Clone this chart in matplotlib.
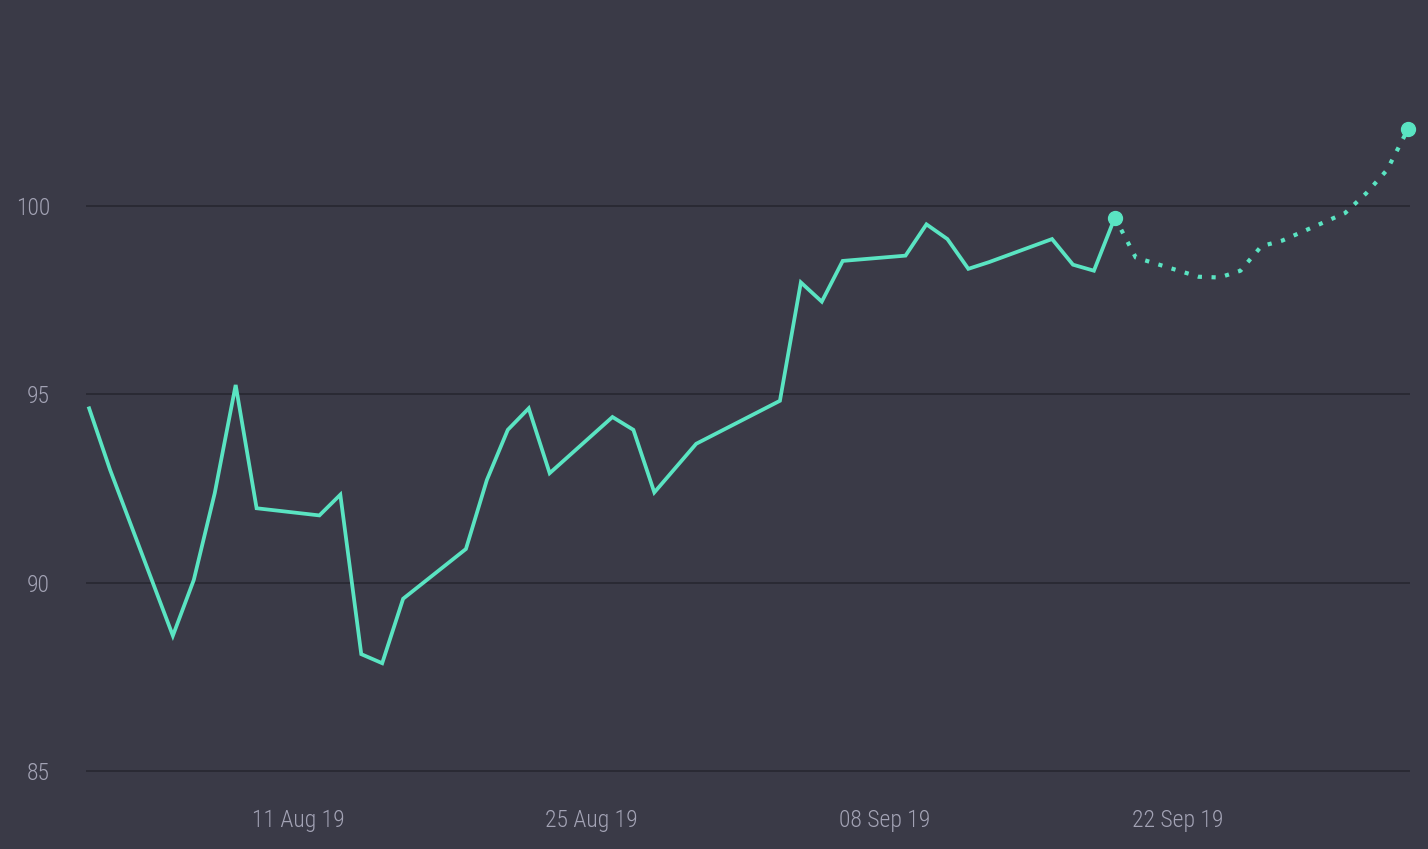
import matplotlib
matplotlib.use('Agg')
import matplotlib.pyplot as plt
import matplotlib.dates as mdates
import pandas as pd

# actual series (trading days)
dates = ['2019-08-01', '2019-08-02', '2019-08-05', '2019-08-06', '2019-08-07',
         '2019-08-08', '2019-08-09', '2019-08-12', '2019-08-13', '2019-08-14',
         '2019-08-15', '2019-08-16', '2019-08-19', '2019-08-20', '2019-08-21',
         '2019-08-22', '2019-08-23', '2019-08-26', '2019-08-27', '2019-08-28',
         '2019-08-30', '2019-09-03', '2019-09-04', '2019-09-05', '2019-09-06',
         '2019-09-09', '2019-09-10', '2019-09-11', '2019-09-12', '2019-09-13',
         '2019-09-16', '2019-09-17', '2019-09-18', '2019-09-19']
values = [94.63, 93.00, 88.60, 90.08, 92.38,
          95.25, 91.98, 91.79, 92.34, 88.11,
          87.87, 89.58, 90.90, 92.73, 94.06,
          94.63, 92.91, 94.40, 94.06, 92.40,
          93.69, 94.83, 97.97, 97.46, 98.54,
          98.68, 99.51, 99.12, 98.33, 98.51,
          99.12, 98.44, 98.28, 99.69]

# forecast series
fc_dates = ['2019-09-19', '2019-09-20', '2019-09-23', '2019-09-24', '2019-09-25',
            '2019-09-26', '2019-09-27', '2019-09-30', '2019-10-01', '2019-10-02',
            '2019-10-03']
fc_values = [99.69, 98.63, 98.12, 98.10, 98.28,
             98.93, 99.08, 99.81, 100.33, 100.95,
             102.03]

tick_dates = ['2019-08-11', '2019-08-25', '2019-09-08', '2019-09-22']
y_ticks = [85, 90, 95, 100]

bg = '#3a3a47'
grid_col = '#292933'
line_col = '#5ae4c2'
text_col = '#a3a3b5'

x = pd.to_datetime(dates)
fx = pd.to_datetime(fc_dates)

fig = plt.figure(figsize=(14.28, 8.49), dpi=100, facecolor=bg)
ax = fig.add_axes([86 / 1428, 1 - 785 / 849, (1410 - 86) / 1428, 785 / 849])
ax.set_facecolor(bg)

ax.plot(x, values, color=line_col, lw=2.7, solid_joinstyle='miter', zorder=3)
ax.plot(fx, fc_values, color=line_col, lw=3.0, linestyle=(0, (1, 2.3)),
        dash_capstyle='butt', zorder=3, clip_on=False)
ax.plot([x[-1], fx[-1]], [values[-1], fc_values[-1]], 'o', color=line_col,
        markersize=10, zorder=4, clip_on=False)

base = pd.Timestamp('2019-08-11')
ax.set_xlim(base - pd.Timedelta(days=10.15), base + pd.Timedelta(days=53.1))
ax.set_ylim(84.64, 105.46)

ax.set_yticks(y_ticks)
ax.set_xticks(pd.to_datetime(tick_dates))
ax.xaxis.set_major_formatter(mdates.DateFormatter('%d %b %y'))

ax.grid(axis='y', color=grid_col, lw=1.3)
ax.set_axisbelow(True)
for s in ax.spines.values():
    s.set_visible(False)

fam = ['Roboto Condensed', 'Liberation Sans Narrow', 'Roboto', 'DejaVu Sans']
ax.tick_params(axis='both', length=0, colors=text_col)
ax.tick_params(axis='y', pad=26)
ax.tick_params(axis='x', pad=17)
for lab in ax.get_xticklabels() + ax.get_yticklabels():
    lab.set_fontfamily(fam)
    lab.set_fontsize(17)
    lab.set_fontweight('light')
    lab.set_color(text_col)

fig.savefig('out.png', dpi=100, facecolor=bg)
